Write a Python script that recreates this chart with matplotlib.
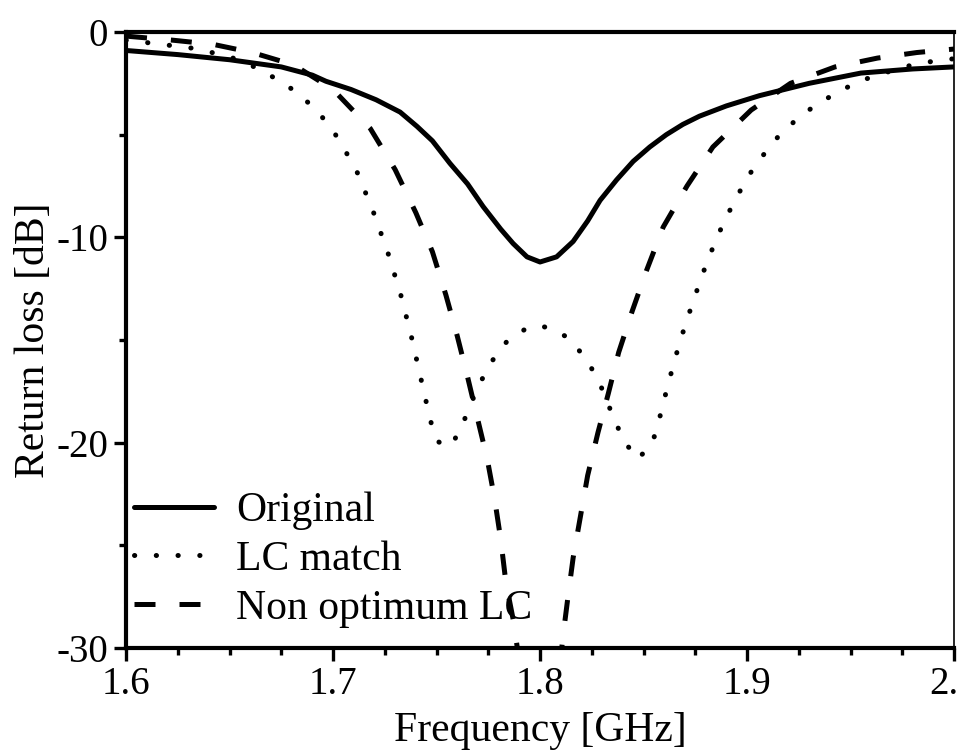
import matplotlib
matplotlib.use("Agg")
from matplotlib import pyplot as plt
from matplotlib.ticker import MultipleLocator

# Data

freq_orig = [1.600, 1.625, 1.650, 1.675, 1.690, 1.6966, 1.7087, 1.7208, 1.7324, 1.7406,
             1.748, 1.7565, 1.765, 1.7725, 1.781, 1.787, 1.7937, 1.800, 1.808, 1.816,
             1.823, 1.829, 1.837, 1.845, 1.853, 1.861, 1.869, 1.877, 1.890, 1.906,
             1.930, 1.955, 1.980, 2.000]
rl_orig = [-0.9, -1.1, -1.35, -1.7, -2.1, -2.4, -2.8, -3.3, -3.9, -4.6,
           -5.3, -6.4, -7.4, -8.5, -9.6, -10.3, -10.95, -11.2, -10.95, -10.2,
           -9.2, -8.2, -7.2, -6.3, -5.6, -5.0, -4.5, -4.1, -3.6, -3.1,
           -2.5, -2.0, -1.8, -1.7]

freq_lc = [1.600, 1.613, 1.633, 1.650, 1.662, 1.672, 1.682, 1.692, 1.700, 1.706,
           1.712, 1.720, 1.727, 1.733, 1.738, 1.7425, 1.747, 1.750, 1.755, 1.758,
           1.763, 1.767, 1.7715, 1.777, 1.7845, 1.794, 1.799, 1.804, 1.814, 1.822,
           1.828, 1.836, 1.8405, 1.847, 1.854, 1.857, 1.862, 1.8675, 1.874, 1.881,
           1.889, 1.900, 1.907, 1.915, 1.9245, 1.934, 1.9445, 1.954, 1.974, 1.9845,
           2.000]
rl_lc = [-0.4, -0.55, -0.8, -1.2, -1.7, -2.25, -2.9, -3.8, -4.8, -5.8,
         -6.9, -8.9, -10.9, -12.9, -14.9, -16.9, -18.9, -19.9, -20.2, -20.0,
         -19.0, -18.0, -17.0, -16.0, -15.0, -14.4, -14.3, -14.4, -14.9, -15.9,
         -16.9, -18.9, -19.9, -20.8, -20.1, -19.1, -17.1, -15.1, -13.1, -11.1,
         -9.2, -7.1, -6.1, -5.1, -4.2, -3.5, -2.9, -2.4, -1.75, -1.5,
         -1.3]

freq_nolc = [1.600, 1.6227, 1.642, 1.661, 1.681, 1.700, 1.718, 1.730, 1.740, 1.748,
             1.7545, 1.760, 1.765, 1.7695, 1.7745, 1.778, 1.781, 1.7835, 1.787, 1.7905,
             1.800, 1.8095, 1.811, 1.8135, 1.816, 1.8195, 1.823, 1.828, 1.833, 1.838,
             1.8445, 1.8515, 1.8595, 1.871, 1.8835, 1.902, 1.921, 1.9425, 1.963, 1.982,
             2.000]
rl_nolc = [-0.2, -0.4, -0.6, -1.0, -1.6, -2.8, -4.7, -6.7, -8.8, -10.7,
           -12.8, -14.8, -16.8, -18.7, -20.8, -22.7, -24.7, -26.8, -28.6, -31.0,
           -36.0, -31.0, -29.5, -27.5, -25.6, -23.6, -21.6, -19.5, -17.6, -15.6,
           -13.6, -11.6, -9.5, -7.5, -5.6, -3.8, -2.5, -1.7, -1.27, -1.0,
           -0.83]

x_ticks = [1.6, 1.7, 1.8, 1.9, 2.0]
x_labels = ["1.6", "1.7", "1.8", "1.9", "2.0"]
y_ticks = [0, -10, -20, -30]
y_labels = ["0", "-10", "-20", "-30"]

plt.rcParams['font.family'] = ['Liberation Serif', 'DejaVu Serif']

fig = plt.figure(figsize=(9.57, 7.53), dpi=100)
ax = fig.add_axes([0.1317, 0.1394, 0.8652, 0.8181])

ax.plot(freq_orig, rl_orig, color='black', lw=3.6, solid_capstyle='round',
        solid_joinstyle='round', label='Original')
ax.plot(freq_lc, rl_lc, color='black', lw=3.6, linestyle=(0, (0.05, 4.3)),
        dash_capstyle='round', label='LC match')
ax.plot(freq_nolc, rl_nolc, color='black', lw=3.6, linestyle=(0, (4.2, 4.8)),
        dash_capstyle='butt', label='Non optimum LC')

ax.set_xlim(1.6, 2.0)
ax.set_ylim(-30, 0)
ax.set_xticks(x_ticks)
ax.set_xticklabels(x_labels)
ax.set_yticks(y_ticks)
ax.set_yticklabels(y_labels)
ax.xaxis.set_minor_locator(MultipleLocator(0.025))
ax.yaxis.set_minor_locator(MultipleLocator(5))

ax.tick_params(which='major', direction='out', length=9, width=2.4,
               labelsize=28, pad=4)
ax.tick_params(which='minor', direction='out', length=5, width=2.4)
ax.tick_params(top=False, right=False, which='both')

for side in ['left', 'bottom', 'top']:
    ax.spines[side].set_linewidth(3.0)
ax.spines['right'].set_linewidth(1.2)

ax.set_xlabel('Frequency [GHz]', fontsize=30, labelpad=6)
ax.set_ylabel('Return loss [dB]', fontsize=30, labelpad=2)

ax.legend(loc='lower left', bbox_to_anchor=(0.0, 0.019), frameon=False,
          fontsize=30, handlelength=1.9, handletextpad=0.55,
          labelspacing=0.25, borderaxespad=0.1, borderpad=0.1)

plt.savefig('out.png', dpi=100)
